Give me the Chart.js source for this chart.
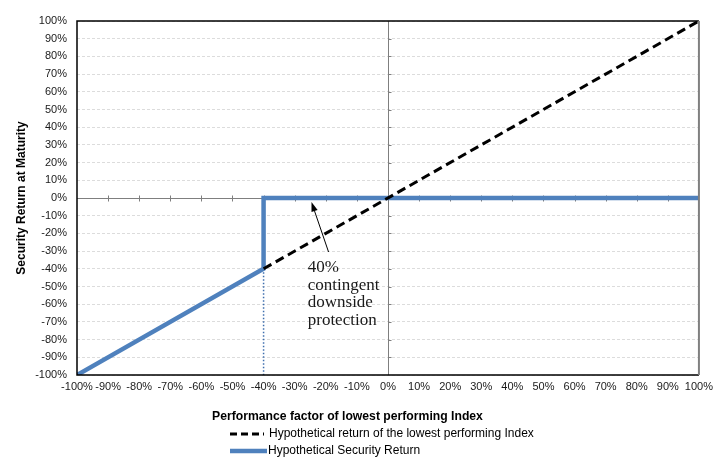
<!DOCTYPE html>
<html>
<head>
<meta charset="utf-8">
<script src="https://cdn.jsdelivr.net/npm/chart.js@4/dist/chart.umd.min.js"></script>
<style>
  html, body { margin: 0; padding: 0; background: #fff; }
  #wrap { position: relative; width: 718px; height: 466px; }
</style>
</head>
<body>
<div id="wrap"><canvas id="c" width="718" height="466"></canvas></div>
<script>
// ---- data ----
const indexX = [-40, 100];
const indexY = [-40, 100];
const securityX = [-100, -40, -40, 100];
const securityY = [-100, -40, 0, 0];
const barrierX = [-40, -40];
const barrierY = [-40, -100];
const xTickMin = -100, xTickMax = 100, tickStep = 10;
const indexLabel = 'Hypothetical return of the lowest performing Index';
const securityLabel = 'Hypothetical Security Return';
const xTitle = 'Performance factor of lowest performing Index';
const yTitle = 'Security Return at Maturity';
const noteLines = ['40%', 'contingent', 'downside', 'protection'];
const arrowFrom = [-19.1, -30.5];
const arrowTo = [-24.6, -2.3];

const pts = (xs, ys) => xs.map((x, i) => ({x: x, y: ys[i]}));
const BLUE = '#4F81BD';

const overlay = {
  id: 'overlay',
  beforeDatasetsDraw(chart) {
    const {ctx, chartArea: a, scales: {x, y}} = chart;
    ctx.save();
    ctx.strokeStyle = '#7f7f7f';
    ctx.lineWidth = 1;
    const y0 = Math.round(y.getPixelForValue(0)) + 0.5;
    ctx.beginPath();
    ctx.moveTo(a.left, y0); ctx.lineTo(a.right, y0);
    for (let v = xTickMin + tickStep; v < xTickMax; v += tickStep) {
      const px = Math.round(x.getPixelForValue(v)) + 0.5;
      ctx.moveTo(px, y0 - 3); ctx.lineTo(px, y0 + 3);
    }
    ctx.stroke();
    const x0 = Math.round(x.getPixelForValue(0)) + 0.5;
    ctx.beginPath();
    ctx.moveTo(x0, a.top); ctx.lineTo(x0, a.bottom);
    for (let v = xTickMin + tickStep; v < xTickMax; v += tickStep) {
      const py = Math.round(y.getPixelForValue(v)) + 0.5;
      ctx.moveTo(x0, py); ctx.lineTo(x0 + 3, py);
    }
    ctx.stroke();
    ctx.restore();
  },
  afterDraw(chart) {
    const {ctx, chartArea: a, scales: {x, y}} = chart;
    ctx.save();
    ctx.strokeStyle = '#000';
    ctx.lineWidth = 1.5;
    ctx.beginPath();
    ctx.moveTo(a.right, a.top); ctx.lineTo(a.left, a.top);
    ctx.lineTo(a.left, a.bottom); ctx.lineTo(a.right, a.bottom);
    ctx.stroke();
    ctx.strokeStyle = '#808080';
    ctx.lineWidth = 2;
    ctx.beginPath();
    ctx.moveTo(a.right, a.top); ctx.lineTo(a.right, a.bottom);
    ctx.stroke();

    const fx = x.getPixelForValue(arrowFrom[0]), fy = y.getPixelForValue(arrowFrom[1]);
    const tx = x.getPixelForValue(arrowTo[0]), ty = y.getPixelForValue(arrowTo[1]);
    ctx.strokeStyle = '#000'; ctx.fillStyle = '#000'; ctx.lineWidth = 1;
    const ang = Math.atan2(ty - fy, tx - fx);
    ctx.beginPath();
    ctx.moveTo(fx, fy); ctx.lineTo(tx - 6 * Math.cos(ang), ty - 6 * Math.sin(ang));
    ctx.stroke();
    ctx.beginPath();
    ctx.moveTo(tx, ty);
    ctx.lineTo(tx - 10 * Math.cos(ang - 0.33), ty - 10 * Math.sin(ang - 0.33));
    ctx.lineTo(tx - 10 * Math.cos(ang + 0.33), ty - 10 * Math.sin(ang + 0.33));
    ctx.closePath(); ctx.fill();

    ctx.fillStyle = '#1a1a1a';
    ctx.font = '17px "Liberation Serif", serif';
    ctx.textAlign = 'left'; ctx.textBaseline = 'middle';
    const nx = x.getPixelForValue(-25.8);
    noteLines.forEach((t, i) => ctx.fillText(t, nx, 268 + i * 17.5));

    ctx.fillStyle = '#000';
    ctx.font = 'bold 12.2px "Liberation Sans", Arial, sans-serif';
    ctx.textAlign = 'left';
    ctx.fillText(xTitle, 212, 417);

    ctx.font = '12px "Liberation Sans", Arial, sans-serif';
    ctx.fillStyle = '#000';
    ctx.strokeStyle = '#000'; ctx.lineWidth = 3; ctx.setLineDash([7, 4]);
    ctx.beginPath(); ctx.moveTo(230, 434); ctx.lineTo(264, 434); ctx.stroke();
    ctx.setLineDash([]);
    ctx.fillText(indexLabel, 269, 434);
    ctx.strokeStyle = BLUE; ctx.lineWidth = 4.5;
    ctx.beginPath(); ctx.moveTo(230, 451); ctx.lineTo(267, 451); ctx.stroke();
    ctx.fillText(securityLabel, 268, 451);
    ctx.restore();
  }
};

const pctTick = v => v + '%';

new Chart(document.getElementById('c'), {
  type: 'line',
  data: {
    datasets: [
      { label: indexLabel, data: pts(indexX, indexY), borderColor: '#000', borderWidth: 3,
        borderDash: [9, 5], pointRadius: 0, fill: false, order: 0 },
      { label: securityLabel, data: pts(securityX, securityY), borderColor: BLUE, borderWidth: 4.5,
        pointRadius: 0, fill: false, order: 1, borderJoinStyle: 'miter' },
      { label: 'barrier', data: pts(barrierX, barrierY), borderColor: '#3f6fae', borderWidth: 1.5,
        borderDash: [1.5, 2], pointRadius: 0, fill: false, order: 2 }
    ]
  },
  options: {
    responsive: false,
    animation: false,
    devicePixelRatio: 1,
    layout: { padding: { top: 21, right: 18, left: 0, bottom: 0 } },
    plugins: { legend: { display: false }, tooltip: { enabled: false } },
    scales: {
      x: {
        type: 'linear', min: xTickMin, max: xTickMax,
        afterFit(s) { s.height = 91; },
        ticks: { stepSize: tickStep, callback: pctTick, color: '#1a1a1a', padding: 5,
                 maxRotation: 0, autoSkip: false,
                 font: { family: '"Liberation Sans", Arial, sans-serif', size: 11 } },
        grid: { display: false, drawTicks: false },
        border: { display: false }
      },
      y: {
        type: 'linear', min: xTickMin, max: xTickMax,
        afterFit(s) { s.width = 77; },
        ticks: { stepSize: tickStep, callback: pctTick, color: '#1a1a1a', padding: 10, autoSkip: false,
                 font: { family: '"Liberation Sans", Arial, sans-serif', size: 11 } },
        grid: { color: '#dcdcdc', lineWidth: 1, drawTicks: false },
        border: { display: false, dash: [3, 2] },
        title: { display: true, text: yTitle, color: '#000', padding: { top: 14, bottom: 0 },
                 font: { family: '"Liberation Sans", Arial, sans-serif', size: 12, weight: 'bold' } }
      }
    }
  },
  plugins: [overlay]
});
</script>
</body>
</html>
